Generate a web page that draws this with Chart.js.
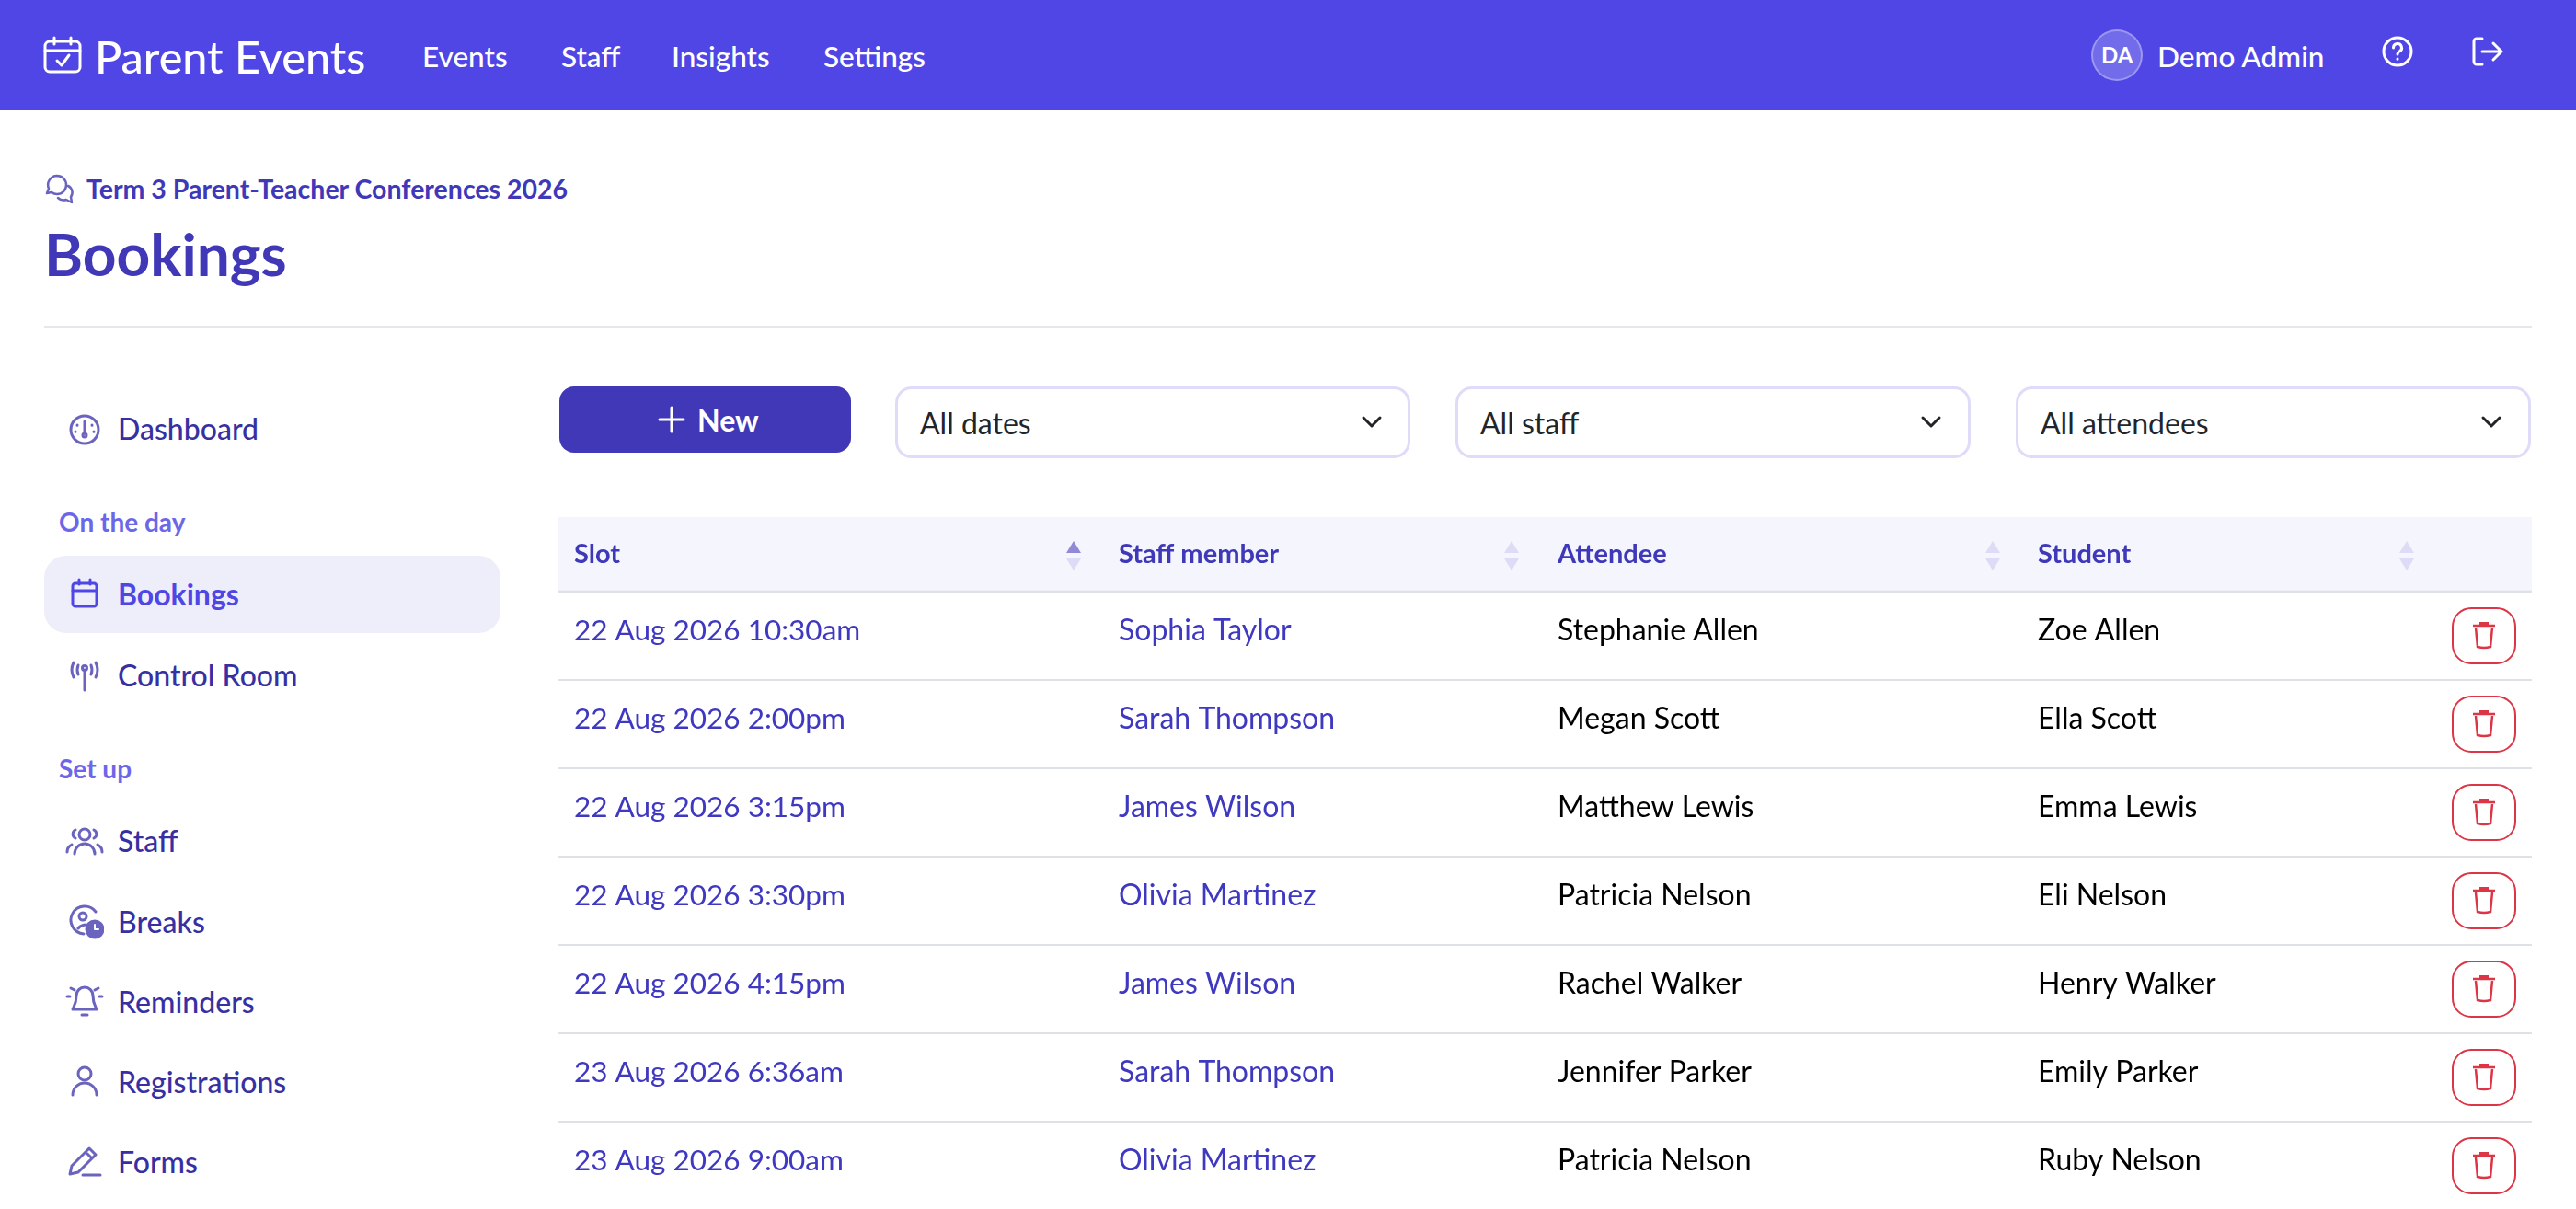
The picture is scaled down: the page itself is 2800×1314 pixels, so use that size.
<!DOCTYPE html>
<html>
<head>
<meta charset="utf-8">
<title>Bookings</title>
<script src="https://cdn.jsdelivr.net/npm/chart.js@4"></script>
<style>
  html, body { margin: 0; width: 2800px; height: 1314px; overflow: hidden; background: #fff; font-family: Lato, sans-serif; }
  .abs, .t, svg { position: absolute; }
  .t { transform: translateY(-50%); white-space: nowrap; line-height: 1.2; }
  #nav { position: absolute; left: 0; top: 0; width: 2800px; height: 120px; background: #4f46e5; }
  .nav { color: #fff; font-size: 31.5px; font-weight: 500; }
  .side { color: #3730a3; font-size: 32px; font-weight: 500; left: 128px; }
  .group { color: #6c66e8; font-size: 28px; font-weight: 700; left: 64px; }
  .select { position: absolute; top: 420px; width: 554px; height: 72px; border: 3px solid #dedcf9; border-radius: 18px; background: #fff; }
  .seltext { color: #212529; font-size: 32px; }
  .ico { fill: none; stroke: #6b64bf; stroke-width: 3; stroke-linecap: round; stroke-linejoin: round; }
  .wh { fill: none; stroke: #fff; stroke-width: 3; stroke-linecap: round; stroke-linejoin: round; }
  #table { position: absolute; left: 607px; top: 562px; }
</style>
</head>
<body>
<div id="nav"></div>
<svg class="wh" style="left:46px;top:38px" width="46" height="44" viewBox="0 0 46 44"><rect x="3" y="7" width="38" height="33" rx="5"/><path d="M3 17H41M13 3V10M31 3V10M16 28L21 33L29 22"/></svg>
<span class="t" style="left:103px;top:61px;color:#fff;font-size:48.5px;font-weight:500">Parent Events</span>
<span class="t nav" style="left:459px;top:62px">Events</span>
<span class="t nav" style="left:610px;top:62px">Staff</span>
<span class="t nav" style="left:730px;top:62px">Insights</span>
<span class="t nav" style="left:895px;top:62px">Settings</span>
<div class="abs" style="left:2273px;top:32px;width:52px;height:52px;border:2px solid rgba(255,255,255,.3);border-radius:50%;background:rgba(255,255,255,.2)"></div>
<span class="t" style="left:2284px;top:60px;color:#fff;font-size:24px;font-weight:700">DA</span>
<span class="t nav" style="left:2345px;top:62px">Demo Admin</span>
<svg class="wh" style="left:2588px;top:38px" width="36" height="36" viewBox="0 0 36 36"><circle cx="18" cy="18" r="15"/><path d="M13.5 14a4.5 4.5 0 1 1 6.5 4c-1.4.8-2 1.600-2 3M18 26v.2"/></svg>
<svg class="wh" style="left:2686px;top:39px" width="36" height="34" viewBox="0 0 36 34"><path d="M12 3H6a3 3 0 0 0-3 3V28a3 3 0 0 0 3 3H12M12 17H33M24 8L33 17L24 26"/></svg>

<svg class="ico" style="left:48px;top:188px;stroke-width:2.500" width="34" height="34" viewBox="0 0 34 34"><path d="M14 3a10 10 0 0 0-9 14L3 22l5-1a10 10 0 0 0 6 2a10 10 0 0 0 0-20zM26 14a8 8 0 0 1 3 12l1 6-6-3a9 9 0 0 1-9-2"/></svg>
<span class="t" style="left:94px;top:205px;color:#3f38b8;font-size:28.500px;font-weight:700">Term 3 Parent-Teacher Conferences 2026</span>
<span class="t" style="left:48px;top:276px;color:#4038b6;font-size:64px;font-weight:700">Bookings</span>
<div class="abs" style="left:48px;top:354px;width:2704px;height:2px;background:#e5e6ee"></div>

<svg class="ico" style="left:74px;top:449px" width="36" height="36" viewBox="0 0 36 36"><circle cx="18" cy="18" r="15"/><path d="M18 9V22"/><circle cx="18" cy="24" r="2"/><path d="M10 13v.2M26 13v.2M8 20v.2M28 20v.2"/></svg>
<span class="t side" style="top:466px">Dashboard</span>
<span class="t group" style="top:568px">On the day</span>
<div class="abs" style="left:48px;top:604px;width:496px;height:84px;border-radius:24px;background:#eeeefb"></div>
<svg class="ico" style="left:76px;top:628px;stroke:#4f46e5" width="32" height="34" viewBox="0 0 32 34"><rect x="3" y="6" width="26" height="25" rx="3"/><path d="M3 14H29M10 2V7M22 2V7"/></svg>
<span class="t side" style="top:646px;color:#4f46e5;font-weight:700">Bookings</span>
<svg class="ico" style="left:73px;top:716px" width="38" height="36" viewBox="0 0 38 36"><path d="M19 12V34M7 4Q3 12 7 20M12 7Q10 12 12 17M31 4Q35 12 31 20M26 7Q28 12 26 17"/><circle cx="19" cy="10" r="2.500"/></svg>
<span class="t side" style="top:734px">Control Room</span>
<span class="t group" style="top:836px">Set up</span>
<svg class="ico" style="left:71px;top:897px" width="42" height="34" viewBox="0 0 42 34"><circle cx="21" cy="10" r="6"/><path d="M10 31a11 11 0 0 1 22 0M11 5a5 5 0 0 0 0 9M31 5a5 5 0 0 1 0 9M2 29a9 9 0 0 1 5-8M40 29a9 9 0 0 0-5-8"/></svg>
<span class="t side" style="top:914px">Staff</span>
<svg class="ico" style="left:73px;top:983px" width="40" height="38" viewBox="0 0 40 38"><path d="M31 8A15 15 0 1 0 18 32M12 26q3-4 9-4"/><circle cx="17" cy="13" r="4"/><circle cx="30" cy="27" r="9" fill="#6b64bf"/><path d="M30 22v5h4" stroke="#fff" stroke-width="2"/></svg>
<span class="t side" style="top:1002px">Breaks</span>
<svg class="ico" style="left:71px;top:1070px" width="42" height="38" viewBox="0 0 42 38"><path d="M21 3a9 9 0 0 0-9 9c0 9-3 12-4 15H34c-1-3-4-6-4-15a9 9 0 0 0-9-9zM18 33h6M6 4l4 2M36 4l-4 2M2 13h3M40 13h-3"/></svg>
<span class="t side" style="top:1089px">Reminders</span>
<svg class="ico" style="left:76px;top:1157px" width="32" height="36" viewBox="0 0 32 36"><circle cx="16" cy="10" r="7"/><path d="M3 33a13 13 0 0 1 26 0"/></svg>
<span class="t side" style="top:1176px">Registrations</span>
<svg class="ico" style="left:73px;top:1245px" width="38" height="36" viewBox="0 0 38 36"><path d="M3 31l2-9L24 3l7 7-19 19zM20 7l7 7M17 32H36"/></svg>
<span class="t side" style="top:1263px">Forms</span>

<div class="abs" style="left:608px;top:420px;width:317px;height:72px;border-radius:16px;background:#4038b6"></div>
<svg class="wh" style="left:715px;top:441px" width="30" height="30" viewBox="0 0 30 30"><path d="M15 2V28M2 15H28"/></svg>
<span class="t" style="left:758px;top:457px;color:#fff;font-size:32px;font-weight:700">New</span>
<div class="select" style="left:973px"></div>
<span class="t seltext" style="left:1000px;top:460px">All dates</span>
<svg class="ico" style="left:1478px;top:450px;stroke:#212529" width="26" height="18" viewBox="0 0 26 18"><path d="M4 4L13 13L22 4"/></svg>
<div class="select" style="left:1582px"></div>
<span class="t seltext" style="left:1609px;top:460px">All staff</span>
<svg class="ico" style="left:2086px;top:450px;stroke:#212529" width="26" height="18" viewBox="0 0 26 18"><path d="M4 4L13 13L22 4"/></svg>
<div class="select" style="left:2191px"></div>
<span class="t seltext" style="left:2218px;top:460px">All attendees</span>
<svg class="ico" style="left:2695px;top:450px;stroke:#212529" width="26" height="18" viewBox="0 0 26 18"><path d="M4 4L13 13L22 4"/></svg>

<canvas id="table" width="2145" height="753"></canvas>

<script>
const columns = ['Slot', 'Staff member', 'Attendee', 'Student'];
const slots = ['22 Aug 2026 10:30am', '22 Aug 2026 2:00pm', '22 Aug 2026 3:15pm', '22 Aug 2026 3:30pm', '22 Aug 2026 4:15pm', '23 Aug 2026 6:36am', '23 Aug 2026 9:00am'];
const staffMembers = ['Sophia Taylor', 'Sarah Thompson', 'James Wilson', 'Olivia Martinez', 'James Wilson', 'Sarah Thompson', 'Olivia Martinez'];
const attendees = ['Stephanie Allen', 'Megan Scott', 'Matthew Lewis', 'Patricia Nelson', 'Rachel Walker', 'Jennifer Parker', 'Patricia Nelson'];
const students = ['Zoe Allen', 'Ella Scott', 'Emma Lewis', 'Eli Nelson', 'Henry Walker', 'Emily Parker', 'Ruby Nelson'];
const rowLinks = [true, true, false, false];

// column layout on the x scale, in table pixels
const columnStarts = [17, 609, 1086, 1608];
const sortArrows = [560, 1036, 1559, 2009];
const actionColumn = 2093;

const INK = '#3f38c0';

function deleteButton() {
  const c = document.createElement('canvas');
  c.width = 72; c.height = 64;
  const g = c.getContext('2d');
  g.strokeStyle = '#dc3545';
  g.lineWidth = 2;
  g.beginPath();
  g.roundRect(2, 2, 68, 60, 20);
  g.stroke();
  g.lineWidth = 2.5;
  g.beginPath();
  g.moveTo(24, 21); g.lineTo(48, 21);
  g.moveTo(27, 23); g.lineTo(29, 44); g.quadraticCurveTo(36, 46, 43, 44); g.lineTo(45, 23);
  g.stroke();
  g.fillStyle = '#dc3545';
  g.fillRect(31, 17, 10, 4);
  return c;
}

const tablePlugin = {
  id: 'tablePlugin',
  beforeDraw(chart) {
    const { ctx, chartArea } = chart;
    ctx.save();
    ctx.fillStyle = '#f5f5fe';
    ctx.fillRect(chartArea.left, 0, chartArea.right - chartArea.left, chartArea.top);
    ctx.fillStyle = '#eeeef8';
    ctx.fillRect(chartArea.left, chartArea.top - 2, chartArea.right - chartArea.left, 2);
    ctx.restore();
  },
  afterDatasetsDraw(chart) {
    const { ctx, scales: { x, y } } = chart;
    ctx.save();
    ctx.textBaseline = 'middle';
    ctx.font = '700 29px Lato';
    ctx.fillStyle = '#3f38b8';
    columns.forEach((name, i) => ctx.fillText(name, x.getPixelForValue(columnStarts[i]), 41));
    sortArrows.forEach((at, i) => {
      const px = x.getPixelForValue(at);
      ctx.fillStyle = i === 0 ? '#8f89d8' : '#dddbf5';
      ctx.beginPath(); ctx.moveTo(px, 26); ctx.lineTo(px + 8, 39); ctx.lineTo(px - 8, 39); ctx.fill();
      ctx.fillStyle = '#dddbf5';
      ctx.beginPath(); ctx.moveTo(px - 8, 45); ctx.lineTo(px + 8, 45); ctx.lineTo(px, 58); ctx.fill();
    });
    [slots, staffMembers, attendees, students].forEach((values, c) => {
      ctx.font = c === 0 ? '400 31.5px Lato' : '400 32px Lato';
      ctx.fillStyle = rowLinks[c] ? INK : '#000';
      values.forEach((v, r) => {
        ctx.fillText(v, x.getPixelForValue(columnStarts[c]), y.getPixelForValue(r) - 5);
      });
    });
    ctx.restore();
  }
};

new Chart(document.getElementById('table'), {
  type: 'scatter',
  data: {
    labels: slots,
    datasets: [{
      label: 'Delete',
      data: slots.map(s => ({ x: actionColumn, y: s })),
      pointStyle: deleteButton(),
      pointRadius: 30,
      pointHoverRadius: 30,
      clip: false
    }]
  },
  options: {
    responsive: false,
    animation: false,
    devicePixelRatio: 1,
    layout: { autoPadding: false, padding: { top: 81 } },
    plugins: { legend: { display: false }, tooltip: { enabled: false } },
    scales: {
      x: { type: 'linear', min: 0, max: 2145, display: false },
      y: {
        type: 'category',
        labels: slots,
        offset: true,
        border: { display: false },
        grid: { offset: true, color: '#dee2e6', lineWidth: 2, drawTicks: false },
        ticks: { display: false }
      }
    }
  },
  plugins: [tablePlugin]
});
</script>
</body>
</html>
